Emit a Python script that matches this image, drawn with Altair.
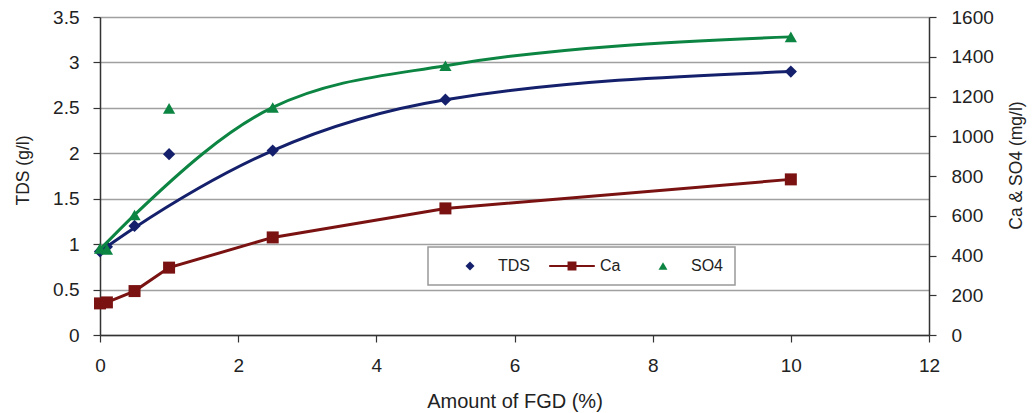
import altair as alt
import pandas as pd

# ---- data ----
fgd = [0, 0.1, 0.5, 1, 2.5, 5, 10]
tds = [0.92, 0.97, 1.20, 1.99, 2.03, 2.59, 2.90]          # g/l (left axis)
ca = [159, 164, 221, 339, 491, 637, 783]                   # mg/l (right axis)
so4 = [436, 431, 604, 1140, 1145, 1355, 1500]              # mg/l (right axis)

# smoothed trend lines (drawn without the x=1 outlier)
trend_x = [0, 0.5, 2.5, 5, 10]
tds_trend = [0.92, 1.18, 2.03, 2.59, 2.90]
so4_trend = [430, 604, 1145, 1355, 1500]

series_names = ["TDS", "Ca", "SO4"]
series_colors = ["#14206b", "#7a1212", "#0c8442"]
# symbol shapes (unit paths); the leading move widens every legend entry alike
diamond_path = "M-5.1,0M-1,0L0,-1L1,0L0,1Z"
ca_legend_path = "M-5.1,-0.25H5.1V0.25H-5.1Z M-1,-1H1V1H-1Z"
triangle_path = "M-5.1,0M0,-0.866L-1,0.866L1,0.866Z"
series_shapes = [diamond_path, ca_legend_path, triangle_path]

x_ticks = [0, 2, 4, 6, 8, 10, 12]
left_ticks = [0, 0.5, 1, 1.5, 2, 2.5, 3, 3.5]
right_ticks = [0, 200, 400, 600, 800, 1000, 1200, 1400, 1600]

tds_df = pd.DataFrame({"x": fgd, "y": tds, "series": "TDS"})
ca_df = pd.DataFrame({"x": fgd, "y": ca, "series": "Ca"})
so4_df = pd.DataFrame({"x": fgd, "y": so4, "series": "SO4"})
tds_tr = pd.DataFrame({"x": trend_x, "y": tds_trend})
so4_tr = pd.DataFrame({"x": trend_x, "y": so4_trend})

FONT = "Liberation Sans"
LBL = 19
TTL = 17.5
common = dict(labelFont=FONT, titleFont=FONT, labelFontSize=LBL,
              labelColor="#222222", titleColor="#222222", titleFontWeight="normal",
              domainColor="#333333", domainWidth=1.5, tickColor="#333333",
              tickWidth=1.2, tickSize=7, labelFlush=False)

x_enc = alt.X(
    "x:Q",
    scale=alt.Scale(domain=[0, 12], nice=False, zero=False),
    axis=alt.Axis(values=x_ticks, title="Amount of FGD (%)", grid=False,
                  labelPadding=14, titlePadding=16, titleFontSize=20, **common),
)

left_scale = alt.Scale(domain=[0, 3.5], nice=False)
right_scale = alt.Scale(domain=[0, 1600], nice=False)

left_axis = alt.Axis(values=left_ticks, format="~g", title="TDS (g/l)", grid=True,
                     gridColor="#a0a0a0", gridWidth=1.5, labelPadding=14,
                     titlePadding=20, titleY=153, titleFontSize=TTL, **common)
right_axis = alt.Axis(values=right_ticks, format="d", title="Ca & SO4 (mg/l)",
                      orient="right", grid=False, labelPadding=15,
                      titleAngle=270, titleBaseline="top", titlePadding=14,
                      titleY=148, titleFontSize=TTL, **common)

color_enc = alt.Color("series:N",
                      scale=alt.Scale(domain=series_names, range=series_colors),
                      legend=alt.Legend(title=" "))
shape_enc = alt.Shape("series:N",
                      scale=alt.Scale(domain=series_names, range=series_shapes),
                      legend=alt.Legend(title=" "))

tds_line = alt.Chart(tds_tr).mark_line(
    interpolate="monotone", strokeWidth=3, color=series_colors[0]
).encode(x=x_enc, y=alt.Y("y:Q", scale=left_scale, axis=left_axis))

tds_pts = alt.Chart(tds_df).mark_point(filled=True, size=150, opacity=1).encode(
    x=x_enc, y=alt.Y("y:Q", scale=left_scale, axis=left_axis),
    color=color_enc, shape=shape_enc,
)

left = alt.layer(tds_line, tds_pts)

ca_line = alt.Chart(ca_df).mark_line(strokeWidth=3, color=series_colors[1]).encode(
    x=x_enc, y=alt.Y("y:Q", scale=right_scale, axis=right_axis)
)
ca_pts = alt.Chart(ca_df).mark_point(
    filled=True, size=144, opacity=1, shape="square", color=series_colors[1]
).encode(x=x_enc, y=alt.Y("y:Q", scale=right_scale, axis=right_axis))

so4_line = alt.Chart(so4_tr).mark_line(
    interpolate="monotone", strokeWidth=3, color=series_colors[2]
).encode(x=x_enc, y=alt.Y("y:Q", scale=right_scale, axis=right_axis))

so4_pts = alt.Chart(so4_df).mark_point(filled=True, size=150, opacity=1).encode(
    x=x_enc, y=alt.Y("y:Q", scale=right_scale, axis=right_axis),
    color=color_enc, shape=shape_enc,
)

right = alt.layer(ca_line, ca_pts, so4_line, so4_pts)

chart = (
    alt.layer(left, right)
    .resolve_scale(y="independent")
    .properties(
        width=829, height=318,
        autosize=alt.AutoSizeParams(type="none"),
        padding={"left": 92, "top": 9, "right": 98, "bottom": 78},
        background="white",
    )
    .configure(font=FONT)
    .configure_view(strokeWidth=0)
    .configure_axis(
        labelFont=FONT, titleFont=FONT, labelFontSize=LBL, titleFontSize=TTL,
        labelColor="#222222", titleColor="#222222", titleFontWeight="normal",
        domainColor="#333333", domainWidth=1.5, tickColor="#333333",
        tickWidth=1.2, tickSize=7, labelFlush=False,
    )
    .configure_legend(
        orient="none", legendX=328, legendY=230, direction="horizontal",
        fillColor="white", strokeColor="#999999", strokeWidth=1.5,
        padding=11, columnPadding=19, labelOffset=20, symbolSize=80,
        labelFont=FONT, labelFontSize=16, labelColor="#222222",
        titleOrient="left", titleFontSize=1, titlePadding=23,
        symbolStrokeWidth=0,
    )
)

chart.save("out.html", embed_options={"renderer": "svg", "actions": False})
